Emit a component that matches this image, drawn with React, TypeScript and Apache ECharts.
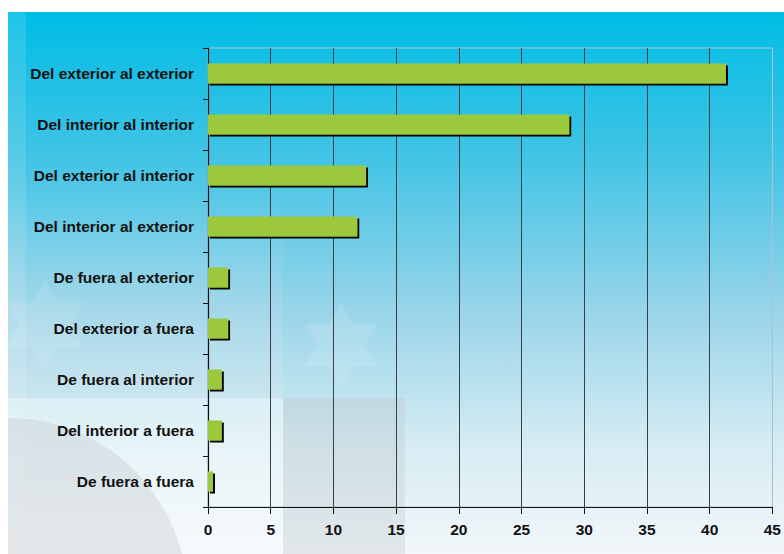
import React, { useEffect, useRef } from "react";
import * as echarts from "echarts";

const categories = [
  "Del exterior al exterior",
  "Del interior al interior",
  "Del exterior al interior",
  "Del interior al exterior",
  "De fuera al exterior",
  "Del exterior a fuera",
  "De fuera al interior",
  "Del interior a fuera",
  "De fuera a fuera",
];
const values = [41.3, 28.8, 12.6, 11.9, 1.6, 1.6, 1.1, 1.1, 0.4];
const xMin = 0;
const xMax = 45;
const xStep = 5;

function starPoints(cx: number, cy: number, r: number): number[][] {
  const pts: number[][] = [];
  for (let i = 0; i < 12; i++) {
    const a = (Math.PI / 6) * i - Math.PI / 2;
    const rr = i % 2 === 0 ? r : r * 0.58;
    pts.push([cx + rr * Math.cos(a), cy + rr * Math.sin(a)]);
  }
  return pts;
}

export default function App() {
  const ref = useRef<HTMLDivElement>(null);
  useEffect(() => {
    document.body.style.margin = "0";
    const chart = echarts.init(ref.current!, null, { renderer: "svg" });
    const font = "'Liberation Sans', Arial, sans-serif";
    const gridColors = [] as string[];
    for (let v = xMin; v <= xMax; v += xStep) gridColors.push(v === xMax ? "#a9c4cf" : "#3a3f44");
    chart.setOption({
      animation: false,
      backgroundColor: "#ffffff",
      graphic: [
        {
          type: "rect",
          z: -100,
          silent: true,
          shape: { x: 8, y: 12, width: 776, height: 542 },
          style: {
            fill: new echarts.graphic.LinearGradient(0, 0, 0, 1, [
              { offset: 0, color: "#00bde5" },
              { offset: 0.25, color: "#3cc3e5" },
              { offset: 0.55, color: "#98d4e9" },
              { offset: 0.8, color: "#d6ecf3" },
              { offset: 1, color: "#f2f7f9" },
            ]),
          },
        },
        {
          type: "rect",
          z: -99,
          silent: true,
          shape: { x: 8, y: 200, width: 275, height: 198 },
          style: {
            fill: new echarts.graphic.LinearGradient(0, 0, 0, 1, [
              { offset: 0, color: "rgba(225,232,236,0)" },
              { offset: 1, color: "rgba(225,232,236,0.3)" },
            ]),
          },
        },
        {
          type: "rect",
          z: -99,
          silent: true,
          shape: { x: 8, y: 12, width: 18, height: 542 },
          style: { fill: "rgba(255,255,255,0.12)" },
        },
        {
          type: "polygon",
          z: -98,
          silent: true,
          shape: { points: starPoints(341, 345, 42) },
          style: { fill: "rgba(255,255,255,0.12)" },
        },
        {
          type: "polygon",
          z: -98,
          silent: true,
          shape: { points: starPoints(45, 325, 45) },
          style: { fill: "rgba(255,255,255,0.1)" },
        },
        {
          type: "rect",
          z: -97,
          silent: true,
          shape: { x: 8, y: 398, width: 275, height: 156 },
          style: { fill: "rgba(255,255,255,0.4)" },
        },
        {
          type: "rect",
          z: -97,
          silent: true,
          shape: { x: 283, y: 398, width: 122, height: 156 },
          style: { fill: "rgba(190,196,200,0.3)" },
        },
        {
          type: "ellipse",
          z: -96,
          silent: true,
          shape: { cx: 8, cy: 600, rx: 180, ry: 182 },
          style: { fill: "rgba(185,190,195,0.3)" },
        },
        {
          type: "rect",
          z: -95,
          silent: true,
          shape: { x: 0, y: 0, width: 8, height: 554 },
          style: { fill: "#ffffff" },
        },
      ],
      grid: {
        left: 208,
        right: 8,
        top: 48,
        bottom: 47,
        show: true,
        borderColor: "#a9c4cf",
        borderWidth: 1,
        backgroundColor: "transparent",
      },
      xAxis: {
        type: "value",
        min: xMin,
        max: xMax,
        interval: xStep,
        axisLine: { show: true, lineStyle: { color: "#111", width: 1.2 } },
        axisTick: { show: true, length: 7, lineStyle: { color: "#111" } },
        splitLine: { show: true, lineStyle: { color: gridColors, width: 1 } },
        axisLabel: {
          color: "#111",
          fontSize: 15.5,
          fontWeight: "bold",
          fontFamily: font,
          margin: 14,
        },
      },
      yAxis: {
        type: "category",
        inverse: true,
        data: categories,
        axisLine: { show: true, lineStyle: { color: "#111", width: 1.2 } },
        axisTick: { show: true, length: 5, lineStyle: { color: "#111" } },
        axisLabel: {
          color: "#111",
          fontSize: 15.5,
          fontWeight: "bold",
          fontFamily: font,
          margin: 14,
        },
      },
      series: [
        {
          type: "bar",
          data: values,
          barWidth: 20,
          itemStyle: {
            color: "#9bc83c",
            shadowColor: "#000",
            shadowOffsetX: 2,
            shadowOffsetY: 2,
            shadowBlur: 0,
          },
        },
      ],
    });
    return () => chart.dispose();
  }, []);
  return <div ref={ref} style={{ width: 784, height: 554 }} />;
}
